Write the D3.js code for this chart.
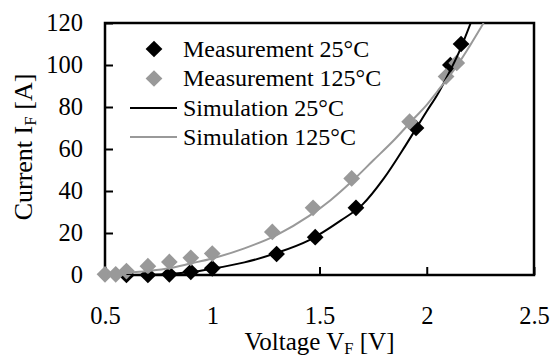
<!DOCTYPE html>
<html>
<head>
<meta charset="utf-8">
<script src="https://cdn.jsdelivr.net/npm/d3@7"></script>
<style>
  body { margin: 0; background: #fff; }
  svg text { font-family: "Liberation Serif", "Times New Roman", serif; fill: #000; }
</style>
</head>
<body>
<svg id="chart" width="551" height="356"></svg>
<script>
// measured points
const measV25 = [0.6, 0.7, 0.8, 0.9, 1.0, 1.3, 1.48, 1.67, 1.95, 2.11, 2.16];
const measI25 = [0, 0, 0.3, 1.5, 3.2, 10, 18, 32, 70, 100, 110];
const measV125 = [0.5, 0.55, 0.6, 0.7, 0.8, 0.9, 1.0, 1.28, 1.47, 1.65, 1.92, 2.09, 2.14];
const measI125 = [0.3, 0.3, 1.9, 4.2, 6.2, 8.2, 10.2, 20.5, 32, 46, 73, 94.5, 101];

// simulation curves
const simV25 = [0.6, 0.7, 0.8, 0.9, 1.0, 1.15, 1.3, 1.45, 1.6, 1.7, 1.8, 1.9, 2.0, 2.05, 2.1, 2.15, 2.205];
const simI25 = [0, 0.1, 0.5, 1.4, 3, 6, 10.5, 16.5, 26, 33.5, 46, 61.5, 78, 86, 95.5, 106, 120];
const simV125 = [0.6, 0.7, 0.8, 0.9, 1.0, 1.15, 1.3, 1.45, 1.55, 1.65, 1.75, 1.85, 1.94, 2.0, 2.05, 2.1, 2.15, 2.2, 2.265];
const simI125 = [1, 1.9, 3.2, 5.5, 7.9, 12.7, 19, 28, 35.5, 44.5, 54.5, 64.5, 74.5, 81, 87.5, 94, 101, 109, 120];

const xTicks = [0.5, 1, 1.5, 2, 2.5];
const yTicks = [0, 20, 40, 60, 80, 100, 120];
const legendLabels = ["Measurement 25°C", "Measurement 125°C", "Simulation 25°C", "Simulation 125°C"];

const black = "#000", grey = "#999";
const FONT = "Liberation Serif, Times New Roman, serif";

(function draw() {
	var svg = d3.select("#chart");
	var pl = 105, pr = 534, pt = 23, pb = 275;

	var x = d3.scaleLinear().domain([0.5, 2.5]).range([pl, pr]);
	var y = d3.scaleLinear().domain([0, 120]).range([pb, pt]);

	// axes, ticks pointing inwards
	var xAxis = svg.append("g")
		.attr("transform", `translate(0,${pb})`)
		.call(d3.axisBottom(x).tickValues(xTicks).tickSizeInner(-8).tickSizeOuter(0).tickPadding(32).tickFormat(d3.format("")));
	var yAxis = svg.append("g")
		.attr("transform", `translate(${pl},0)`)
		.call(d3.axisLeft(y).tickValues(yTicks).tickSizeInner(-8).tickSizeOuter(0).tickPadding(22));

	[xAxis, yAxis].forEach(g => {
		g.attr("font-family", FONT).attr("font-size", 24.5);
		g.select(".domain").remove();
		g.selectAll(".tick line").attr("stroke", "#000").attr("stroke-width", 2);
		g.selectAll(".tick text").attr("fill", "#000");
	});
	xAxis.selectAll(".tick text").attr("dy", "0.71em");

	// frame
	svg.append("rect")
		.attr("x", pl).attr("y", pt)
		.attr("width", pr - pl).attr("height", pb - pt)
		.attr("fill", "none").attr("stroke", "#000").attr("stroke-width", 2.5);

	var zip = (a, b) => a.map((v, i) => [v, b[i]]);

	svg.append("defs").append("clipPath").attr("id", "clip")
		.append("rect").attr("x", pl).attr("y", pt).attr("width", pr - pl).attr("height", pb - pt);

	var diamond = d3.symbol(d3.symbolSquare, 140);

	// markers
	function markers(vs, is, color) {
		svg.append("g").selectAll("path").data(zip(vs, is)).join("path")
			.attr("d", diamond)
			.attr("transform", d => `translate(${x(d[0])},${y(d[1])}) rotate(45)`)
			.attr("fill", color);
	}
	markers(measV25, measI25, black);
	markers(measV125, measI125, grey);

	var line = d3.line().x(d => x(d[0])).y(d => y(d[1])).curve(d3.curveMonotoneX);
	svg.append("path").datum(zip(simV25, simI25))
		.attr("d", line).attr("fill", "none").attr("stroke", black).attr("stroke-width", 2).attr("clip-path", "url(#clip)");
	svg.append("path").datum(zip(simV125, simI125))
		.attr("d", line).attr("fill", "none").attr("stroke", grey).attr("stroke-width", 2).attr("clip-path", "url(#clip)");

	// legend
	var lg = svg.append("g").attr("font-family", FONT).attr("font-size", 24);
	var rowY = [49, 78.5, 108, 137];
	legendLabels.forEach((lab, i) => {
		var cy = rowY[i];
		if (i < 2) {
			lg.append("path").attr("d", diamond)
				.attr("transform", `translate(154,${cy}) rotate(45)`)
				.attr("fill", i === 0 ? black : grey);
		} else {
			lg.append("line").attr("x1", 130).attr("x2", 177).attr("y1", cy).attr("y2", cy)
				.attr("stroke", i === 2 ? black : grey).attr("stroke-width", 2);
		}
		lg.append("text").attr("x", 183).attr("y", cy + 7.5).text(lab);
	});

	// axis titles
	var xt = svg.append("text").attr("x", (pl + pr) / 2).attr("y", 350)
		.attr("text-anchor", "middle").attr("font-family", FONT).attr("font-size", 25);
	xt.append("tspan").text("Voltage V");
	xt.append("tspan").attr("font-size", 16.5).attr("dy", 4).text("F");
	xt.append("tspan").attr("dy", -4).text(" [V]");

	var yt = svg.append("text").attr("transform", `translate(32,${(pt + pb) / 2 - 2}) rotate(-90)`)
		.attr("text-anchor", "middle").attr("font-family", FONT).attr("font-size", 26);
	yt.append("tspan").text("Current I");
	yt.append("tspan").attr("font-size", 17).attr("dy", 4).text("F");
	yt.append("tspan").attr("dy", -4).text(" [A]");
})();
</script>
</body>
</html>
